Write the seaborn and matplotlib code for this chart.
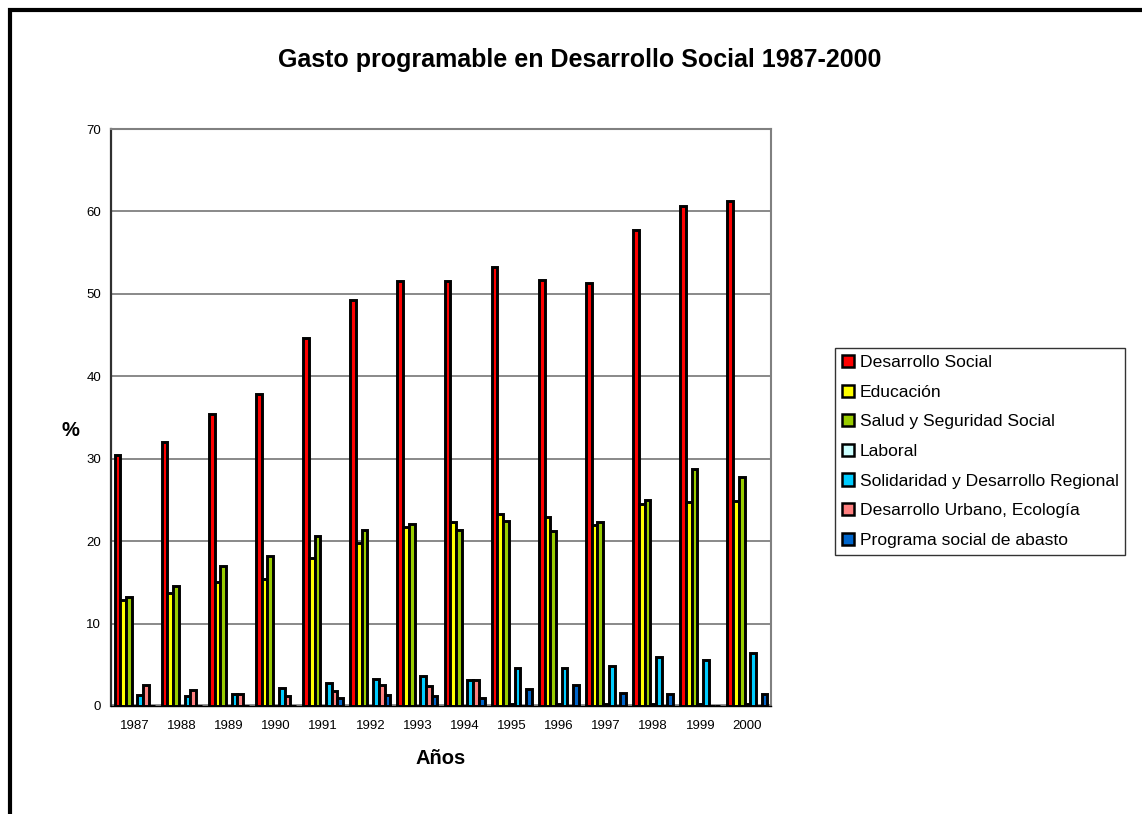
import numpy as np
import pandas as pd
import matplotlib
matplotlib.use("Agg")
import matplotlib.pyplot as plt
from matplotlib.patches import Patch, Rectangle
import seaborn as sns

# ---- data (% of programmable social spending) ----
years = ["1987", "1988", "1989", "1990", "1991", "1992", "1993",
         "1994", "1995", "1996", "1997", "1998", "1999", "2000"]

desarrollo_social = [30.5, 32.0, 35.4, 37.8, 44.6, 49.2, 51.5,
                     51.5, 53.2, 51.7, 51.3, 57.7, 60.6, 61.3]
educacion = [12.8, 13.7, 15.0, 15.4, 18.0, 19.8, 21.7,
             22.3, 23.3, 22.9, 22.0, 24.5, 24.7, 24.9]
salud = [13.2, 14.5, 17.0, 18.2, 20.6, 21.4, 22.1,
         21.3, 22.5, 21.2, 22.3, 25.0, 28.8, 27.8]
laboral = [0.0, 0.0, 0.0, 0.0, 0.0, 0.0, 0.0,
           0.0, 0.2, 0.2, 0.2, 0.2, 0.2, 0.2]
solidaridad = [1.3, 1.2, 1.4, 2.2, 2.8, 3.3, 3.6,
               3.1, 4.6, 4.6, 4.8, 6.0, 5.6, 6.4]
urbano = [2.6, 2.0, 1.4, 1.2, 1.8, 2.6, 2.4,
          3.1, 0.0, 0.0, 0.0, 0.0, 0.0, 0.0]
abasto = [0.0, 0.0, 0.0, 0.0, 1.0, 1.3, 1.2,
          1.0, 2.1, 2.5, 1.6, 1.5, 0.05, 1.4]

series_names = ["Desarrollo Social", "Educación", "Salud y Seguridad Social",
                "Laboral", "Solidaridad y Desarrollo Regional",
                "Desarrollo Urbano, Ecología", "Programa social de abasto"]
series_values = [desarrollo_social, educacion, salud, laboral,
                 solidaridad, urbano, abasto]
series_colors = ["#FF0000", "#FFFF00", "#99CC00", "#CCFFFF",
                 "#00CCFF", "#FF8080", "#0066CC"]

y_ticks = [0, 10, 20, 30, 40, 50, 60, 70]

# long-form table for seaborn
df = pd.DataFrame({
    "Año": np.tile(years, len(series_names)),
    "Rubro": np.repeat(series_names, len(years)),
    "Valor": np.concatenate(series_values),
})

# ---- style ----
sns.set_style("white")
plt.rcParams["font.family"] = ["Liberation Sans", "DejaVu Sans"]
plt.rcParams["text.color"] = "black"
plt.rcParams["axes.labelcolor"] = "black"
plt.rcParams["xtick.color"] = "black"
plt.rcParams["ytick.color"] = "black"

W, H = 1142, 814
fig = plt.figure(figsize=(W / 100, H / 100), dpi=100)
fig.patch.set_facecolor("white")

# plot area in pixel coordinates
x0, x1, y_top, y_bot = 111, 771, 129, 706
ax = fig.add_axes([x0 / W, 1 - y_bot / H, (x1 - x0) / W, (y_bot - y_top) / H])

# gridlines behind bars
for t in y_ticks[1:-1]:
    ax.axhline(t, color="#808080", lw=1.3, zorder=0)
ax.axhline(0, color="#909090", lw=3.5, zorder=0.5)

sns.barplot(data=df, x="Año", y="Valor", hue="Rubro",
            order=years, hue_order=series_names,
            palette=dict(zip(series_names, series_colors)),
            width=0.85, edgecolor="black", linewidth=2.1,
            saturation=1, errorbar=None, legend=False, ax=ax, zorder=2)

ax.set_xlim(-0.5, len(years) - 0.5)
ax.set_ylim(0, 70)
ax.set_yticks(y_ticks)
ax.set_yticklabels([str(t) for t in y_ticks], fontsize=9.5)
ax.set_xlabel("")
ax.set_ylabel("")
ax.grid(False)

# category labels centred, tick marks on group boundaries
ax.tick_params(axis="x", which="major", length=0, pad=10, labelsize=9.5)
ax.set_xticks(np.arange(len(years) + 1) - 0.5, minor=True)
ax.tick_params(axis="x", which="minor", length=6.5, width=1.0,
               color="black", direction="out")
ax.tick_params(axis="y", which="major", length=4, width=1.0,
               color="black", direction="out", pad=3)

for side in ["top", "right"]:
    ax.spines[side].set_color("#808080")
    ax.spines[side].set_linewidth(1.5)
ax.spines["left"].set_color("#303030")
ax.spines["left"].set_linewidth(1.6)
ax.spines["bottom"].set_color("black")
ax.spines["bottom"].set_linewidth(1.0)

# titles and axis labels
fig.text(580 / W, 1 - 60 / H, "Gasto programable en Desarrollo Social 1987-2000",
         ha="center", va="center", fontsize=18, fontweight="bold")
fig.text(441 / W, 1 - 758 / H, "Años", ha="center", va="center",
         fontsize=14.5, fontweight="bold")
fig.text(70 / W, 1 - 430 / H, "%", ha="center", va="center",
         fontsize=14.5, fontweight="bold")

# legend
handles = [Patch(facecolor=c, edgecolor="black", linewidth=1.8)
           for c in series_colors]
leg = fig.legend(handles, series_names, loc="upper left",
                 bbox_to_anchor=(835 / W, 1 - 348 / H),
                 bbox_transform=fig.transFigure,
                 fontsize=12.6, frameon=True, fancybox=False,
                 edgecolor="black", borderaxespad=0, borderpad=0.4,
                 handlelength=0.7, handleheight=0.7, handletextpad=0.3,
                 labelspacing=0.82)
leg.get_frame().set_linewidth(1.0)

# outer frame (left and top edges visible)
fig.patches.append(Rectangle((10.3 / W, -0.1), 1.2, 1.1 - 10.3 / H,
                             transform=fig.transFigure, fill=False,
                             edgecolor="black", linewidth=3.0))

fig.savefig("out.png", dpi=100)
